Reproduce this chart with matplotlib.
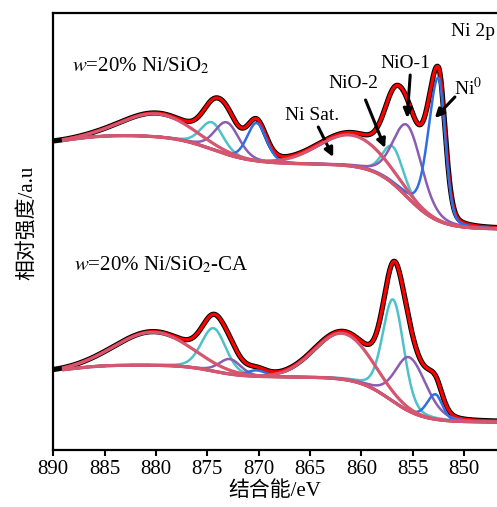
import numpy as np
import matplotlib
matplotlib.use("Agg")
import matplotlib.pyplot as plt

plt.rcParams['font.family'] = ['Liberation Serif', 'Noto Sans CJK SC']
plt.rcParams['mathtext.fontset'] = 'stix'

# 拟合分峰参数, 从原图读取: 中心 (eV), 峰高, 高结合能侧/低结合能侧半高宽 (eV), 洛伦兹比例
names = ['sat1', 'cyan1', 'purple1', 'blue1', 'sat2', 'cyan2', 'purple2', 'blue2']
gl_mix = [0.0, 0.2, 0.2, 0.2, 0.0, 0.2, 0.2, 0.2]

# w=20% Ni/SiO2
top_offset = 221
top_centers = [879.9, 874.55, 873.1, 870.2, 861.0, 856.95, 855.5, 852.5]
top_heights = [23, 27, 32, 38, 31, 37, 72, 143]
top_fwhm_hi = [8.0, 2.6, 2.8, 2.2, 7.5, 2.4, 3.3, 2.3]
top_fwhm_lo = [8.0, 2.6, 2.8, 2.2, 7.5, 2.4, 3.3, 1.55]
# Shirley 型背景: 台阶 (幅度, 中心 eV, 宽度 eV)
top_steps = [(65, 855.6, 1.6), (29, 874.5, 2.0), (-8, 888.0, 1.5)]

# w=20% Ni/SiO2-CA
bot_offset = 28
bot_centers = [880.3, 874.4, 872.8, 870.2, 861.8, 856.9, 855.3, 852.8]
bot_heights = [33, 43, 15, 6, 46, 102, 54, 25]
bot_fwhm_hi = [8.5, 2.8, 2.5, 2.2, 6.5, 2.4, 3.3, 1.9]
bot_fwhm_lo = [8.5, 2.8, 2.5, 2.2, 6.5, 2.4, 3.8, 1.6]
bot_steps = [(45, 857.2, 1.6), (12, 874.5, 1.5), (-7, 888.0, 1.5)]

colors = {'sat': '#d4566f', 'cyan': '#4fc1c9', 'purple': '#8a5db3', 'blue': '#2f6fe2'}


def peak(e, c, h, w_hi, w_lo, m):
    w = np.where(e > c, w_hi, w_lo)
    d = ((e - c) / w) ** 2
    return h * ((1 - m) * np.exp(-4 * np.log(2) * d) + m / (1 + 4 * d))


def background(e, steps, offset):
    bg = np.full_like(e, offset, dtype=float)
    for a, c, s in steps:
        bg += a / (1 + np.exp(-(e - c) / s))
    return bg


def components(e, centers, heights, w_hi, w_lo):
    return {n: peak(e, c, h, a, b, m)
            for n, c, h, a, b, m in zip(names, centers, heights, w_hi, w_lo, gl_mix)}


fig = plt.figure(figsize=(4.97, 5.07), dpi=100)
ax = fig.add_axes([53.3 / 497, 57 / 507, 1 - 53.3 / 497, 437 / 507])

e_fit = np.linspace(889, 846, 900)
e_raw = np.linspace(890, 846, 900)

spectra = [
    (top_offset, top_centers, top_heights, top_fwhm_hi, top_fwhm_lo, top_steps),
    (bot_offset, bot_centers, bot_heights, bot_fwhm_hi, bot_fwhm_lo, bot_steps),
]
for offset, centers, heights, w_hi, w_lo, steps in spectra:
    # 原始数据 (黑)
    raw = background(e_raw, steps, offset) + sum(components(e_raw, centers, heights, w_hi, w_lo).values())
    ax.plot(e_raw, raw, color='black', lw=3.8, zorder=1)

    bg = background(e_fit, steps, offset)
    comps = components(e_fit, centers, heights, w_hi, w_lo)
    ax.plot(e_fit, bg + sum(comps.values()), color='red', lw=2.3, zorder=2)
    for n in names:
        key = n[:-1]
        if key == 'sat':
            continue
        ax.plot(e_fit, bg + comps[n], color=colors[key], lw=1.8, zorder=3)
    ax.plot(e_fit, bg + comps['sat1'], color=colors['sat'], lw=2.3, zorder=4)
    ax.plot(e_fit, bg + comps['sat2'], color=colors['sat'], lw=2.3, zorder=4)
    ax.plot(e_fit, bg, color=colors['sat'], lw=2.3, zorder=4)

ax.set_xlim(890, 846.8)
ax.set_ylim(0, 437)
ax.set_xticks(np.arange(890, 849, -5))
ax.set_yticks([])
ax.tick_params(axis='x', direction='out', length=4, width=1.5, labelsize=15, pad=3)
for s in ['left', 'bottom', 'top']:
    ax.spines[s].set_linewidth(1.6)
ax.spines['right'].set_visible(False)
ax.set_xlabel('结合能/eV', fontsize=15, labelpad=2)
ax.set_ylabel('相对强度/a.u', fontsize=15)
ax.yaxis.set_label_coords(-0.037, 0.52)

ax.text(888.2, 384, r'$w$=20% Ni/SiO$_2$', fontsize=15, va='center')
ax.text(888.0, 185, r'$w$=20% Ni/SiO$_2$-CA', fontsize=15, va='center')
ax.text(851.3, 418, 'Ni 2p', fontsize=14, va='center')

arrow = dict(arrowstyle='-|>', color='black', lw=2.2, mutation_scale=13, shrinkA=0, shrinkB=0)
labels = [
    ('Ni Sat.', (864.8, 335), (864.2, 323), (862.75, 293), 'center'),
    ('NiO-2', (860.8, 367), (859.6, 350), (857.7, 302), 'center'),
    ('NiO-1', (855.75, 387), (855.25, 375), (855.55, 332), 'center'),
    ('Ni$^0$', (851.0, 362), (850.9, 353), (852.85, 332), 'left'),
]
for txt, pos, tail, head, ha in labels:
    ax.text(pos[0], pos[1], txt, fontsize=14, ha=ha, va='center')
    ax.annotate('', xy=head, xytext=tail, arrowprops=arrow)

fig.savefig('out.png', dpi=100)
